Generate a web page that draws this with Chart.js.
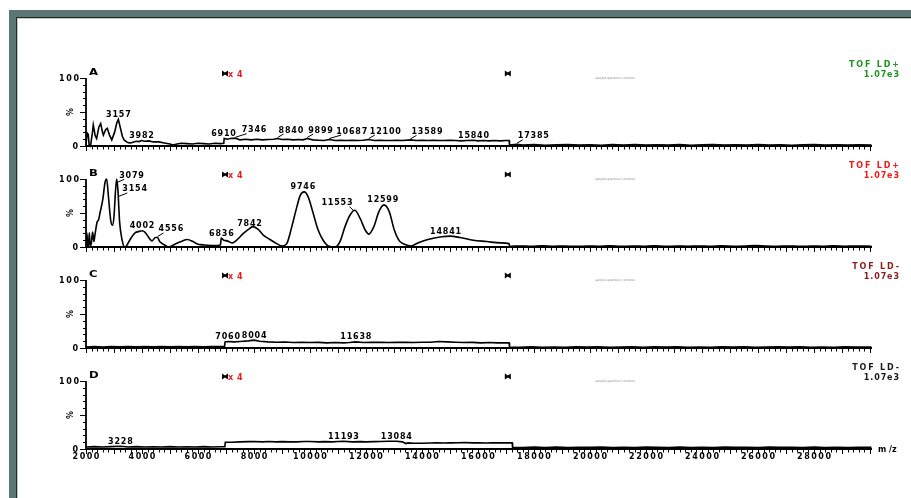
<!DOCTYPE html>
<html>
<head>
<meta charset="utf-8">
<script src="https://cdn.jsdelivr.net/npm/chart.js@4.4.1/dist/chart.umd.min.js"></script>
<style>
  html, body { margin: 0; padding: 0; background: #fff; }
  #wrap { position: relative; width: 911px; height: 498px; }
</style>
</head>
<body>
<div id="wrap"><canvas id="spectra" width="911" height="498"></canvas></div>
<script>
// m/z, intensity (%)
const spectrumA = [
  [2000,3],[2040,19],[2080,17],[2110,2],[2160,0],[2230,20],[2260,31],[2330,15],[2380,11],[2460,28],[2525,33],[2580,22],
  [2620,16],[2700,24],[2760,26],[2840,16],[2920,9],[3020,20],[3100,34],[3155,39],[3220,28],[3300,14],[3360,9],[3450,6],
  [3510,5],[3600,4.5],[3700,6],[3800,7],[3900,6.5],[3980,8],[4100,7],[4250,7.5],[4400,6],[4600,6],[4800,4.5],[5000,3],
  [5100,1.5],[5250,3],[5400,4],[5600,3.5],[5800,3],[6000,4],[6200,3.5],[6400,3],[6600,4],[6800,3.5],[6920,4],
  [6935,11],[7050,10],[7150,11],[7346,11.5],[7500,9],[7700,10],[7900,9],[8100,10],[8300,9],[8500,9.5],[8700,10],[8840,11],
  [9000,9.5],[9200,10],[9400,9],[9600,9.5],[9750,9],[9899,11],[10100,9],[10300,8.5],[10500,8],[10687,9.5],[10900,8],
  [11100,8.5],[11300,8],[11500,8.5],[11700,8],[11900,8.5],[12100,9.5],[12300,8],[12500,8.5],[12700,8],[12900,8],[13100,8.5],
  [13300,8],[13589,9],[13800,8],[14000,8.5],[14200,8],[14400,8.5],[14600,8],[14800,8],[15000,8.5],[15200,8],[15400,7.5],
  [15600,8],[15840,8.5],[16000,7.5],[16200,8],[16400,7.5],[16600,8],[16800,7.5],[17000,8],[17110,8],
  [17125,1.5],[17385,2.5],[17600,1.5],[18000,2],[18400,1.2],[18800,1.8],[19200,2.3],[19600,1.4],[20000,1.9],[20400,1.2],
  [20800,2],[21200,1.5],[21600,2.2],[22000,1.3],[22400,1.8],[22800,1.5],[23200,2.1],[23600,1.2],[24000,1.7],[24400,2],
  [24800,1.3],[25200,1.8],[25600,1.5],[26000,2.2],[26400,1.4],[26800,1.9],[27200,1.2],[27600,1.7],[28000,2],[28400,1.4],
  [28800,1.8],[29200,1.3],[29600,1.7],[30050,1.5]
];
const spectrumB = [
  [2000,3],[2030,21],[2060,2],[2090,1],[2118,21],[2150,2],[2190,5],[2235,22],[2280,8],[2320,18],[2400,37],[2450,40],
  [2500,50],[2600,70],[2680,95],[2738,100],[2800,75],[2880,40],[2945,32],[3000,45],[3050,80],[3095,100],[3140,84],
  [3170,60],[3200,37],[3290,10],[3380,0],[3450,2],[3560,10],[3760,21],[3900,23],[4002,24],[4100,22],[4180,17.6],
  [4360,9],[4480,14],[4556,14],[4630,8],[4810,3],[4950,0],[5170,4],[5400,8],[5620,11],[5820,8],[6000,4],[6250,3],
  [6550,2],[6800,3],[6830,13],[6920,10],[7040,9],[7100,8],[7220,6],[7380,10],[7620,20],[7850,27.5],[7960,30],[8150,26],
  [8330,17.6],[8570,11],[8810,5],[9010,1.5],[9170,5],[9350,30],[9530,59],[9650,76],[9790,81],[9930,74],[10110,50],
  [10290,25],[10470,10],[10650,1.5],[10890,0],[11070,8],[11250,30],[11430,47],[11600,54],[11790,42],[11970,25],
  [12100,19],[12280,30],[12460,52],[12640,62],[12830,52],[13010,25],[13190,9],[13370,4],[13610,1.5],[13850,6],
  [14210,11],[14700,15],[15000,16],[15360,14],[15830,10],[16310,8],[16790,6],[17110,5],
  [17125,1],[17500,1.5],[17900,1],[18300,1.6],[18700,1.1],[19100,1.5],[19500,0.9],[19900,1.4],[20300,1.1],[20700,1.6],
  [21100,1],[21500,1.4],[21900,1.2],[22300,1.7],[22700,1],[23100,1.4],[23500,1.1],[23900,1.5],[24300,1],[24700,1.6],
  [25100,1.2],[25500,1.5],[25900,2.2],[26300,1.4],[26700,1.1],[27100,1.5],[27500,1],[27900,1.4],[28300,1.1],[28700,1.6],
  [29100,1.2],[29500,1.4],[30050,1.2]
];
const spectrumC = [
  [2000,1.5],[2300,2],[2600,1.5],[2900,2],[3200,1.8],[3500,2.2],[3800,1.6],[4100,2],[4400,1.7],[4700,2.2],[5000,1.8],
  [5300,2],[5600,1.6],[5900,2.1],[6200,1.8],[6500,2.2],[6800,2],[6950,2.5],
  [6965,9],[7060,9.5],[7300,9],[7500,9.5],[7800,10.5],[8004,11.5],[8200,10],[8500,9],[8800,8.5],[9100,8.8],[9400,8],
  [9700,8.3],[10000,8],[10300,8.2],[10600,7.5],[10900,8],[11200,7.5],[11400,8],[11638,9],[11900,8],[12200,8.3],
  [12500,8.5],[12800,8],[13100,8.2],[13400,8.5],[13700,8],[14000,8.5],[14300,8.5],[14600,9.5],[14900,9],[15200,8.5],
  [15500,8],[15800,8.2],[16100,7.5],[16400,8],[16700,7.5],[17000,7.5],[17110,7.5],
  [17125,1.5],[17500,1.2],[17900,1.7],[18300,1.1],[18700,1.5],[19100,1.2],[19500,1.8],[19900,1.3],[20300,1.6],[20700,1.1],
  [21100,1.5],[21500,1.8],[21900,1.2],[22300,1.6],[22700,1.3],[23100,1.7],[23500,1.2],[23900,1.5],[24300,1.1],[24700,1.6],
  [25100,1.3],[25500,1.7],[25900,1.2],[26300,1.5],[26700,1.8],[27100,1.3],[27500,1.6],[27900,1.2],[28300,1.5],[28700,1.1],
  [29100,1.6],[29500,1.3],[30050,1.4]
];
const spectrumD = [
  [2000,3],[2300,3.5],[2600,3],[2900,3.5],[3228,4],[3500,3],[3800,3.5],[4100,3],[4400,3.3],[4700,3],[5000,3.5],[5300,3],
  [5600,3.3],[5900,3],[6200,3.5],[6500,3],[6800,3.3],[6960,3.5],
  [6975,10],[7200,10],[7500,10.5],[7800,10.8],[8000,11],[8300,10.5],[8500,11],[8800,10.5],[9000,10.8],[9300,10.5],
  [9500,10.5],[9800,11],[10000,11],[10300,10.5],[10500,10.8],[10800,10.5],[11000,11],[11193,11.5],[11500,10.5],
  [11800,10.8],[12000,10.5],[12300,10.8],[12500,11],[12800,11.5],[13084,11.5],[13300,10.5],[13420,8],[13500,9],
  [13700,8.5],[14000,8.5],[14300,8.8],[14500,9],[14800,8.8],[15000,9],[15300,9.3],[15500,9.5],[15800,9],[16000,9],
  [16300,8.8],[16500,9],[16800,9],[17000,9],[17220,9],
  [17235,2.5],[17600,2.2],[18000,2.8],[18400,2.3],[18800,2.7],[19200,2.2],[19600,2.6],[20000,2.4],[20400,2.8],[20800,2.2],
  [21200,2.6],[21600,2.3],[22000,2.8],[22400,2.4],[22800,2.2],[23200,2.7],[23600,2.3],[24000,2.6],[24400,2.2],[24800,2.8],
  [25200,2.4],[25600,2.6],[26000,2.2],[26400,2.9],[26800,2.4],[27200,2.6],[27600,2.2],[28000,2.7],[28400,2.3],[28800,2.6],
  [29200,2.2],[29600,2.5],[30050,2.4]
];

const peaksA = [3157, 3982, 6910, 7346, 8840, 9899, 10687, 12100, 13589, 15840, 17385];
const peaksB = [3079, 3154, 4002, 4556, 6836, 7842, 9746, 11553, 12599, 14841];
const peaksC = [7060, 8004, 11638];
const peaksD = [3228, 11193, 13084];

const panelLetters = ['A', 'B', 'C', 'D'];
const modeLabels = ['TOF LD+', 'TOF LD+', 'TOF LD-', 'TOF LD-'];
const scaleLabels = ['1.07e3', '1.07e3', '1.07e3', '1.07e3'];
const xTickLabels = [2000, 4000, 6000, 8000, 10000, 12000, 14000, 16000, 18000, 20000, 22000, 24000, 26000, 28000];
const markerMz = [7000, 17100];

// layout
const areaTop = 45, areaBottom = 449, pitch = 101, plotH = 68;
const modeColors = ['#1e961e', '#f01818', '#8b1c1c', '#1a1a1a'];
const labelLayout = {
  A: { 7346: 'l6', 8840: 'l', 9899: 'l', 10687: 'l7', 12100: 'l', 13589: 'l', 17385: 'l' },
  B: { 3079: 'l3', 3154: 'l4', 4556: 'l', 11553: 'r' }
};
const FONT = '"DejaVu Sans", sans-serif';

const panels = [
  { id: 'yA', data: spectrumA, peaks: peaksA },
  { id: 'yB', data: spectrumB, peaks: peaksB, smooth: true },
  { id: 'yC', data: spectrumC, peaks: peaksC },
  { id: 'yD', data: spectrumD, peaks: peaksD }
];

function interp(data, mz) {
  for (let i = 1; i < data.length; i++) {
    if (data[i][0] >= mz) {
      const [x0, y0] = data[i - 1], [x1, y1] = data[i];
      return y0 + (y1 - y0) * (mz - x0) / (x1 - x0);
    }
  }
  return data[data.length - 1][1];
}
function localMax(data, mz) {
  let best = interp(data, mz);
  data.forEach(([x, y]) => { if (Math.abs(x - mz) <= 80 && y > best) best = y; });
  return best;
}

function drawText(ctx, str, x, y, font, color, align, spacing) {
  ctx.save();
  ctx.font = font;
  ctx.fillStyle = color;
  ctx.letterSpacing = spacing + 'px';
  ctx.textAlign = 'left';
  ctx.textBaseline = 'alphabetic';
  const w = ctx.measureText(str).width - spacing;
  let left = x;
  if (align === 'center') left = x - w / 2;
  else if (align === 'right') left = x - w;
  ctx.fillText(str, left, y);
  ctx.restore();
  return { left: left, right: left + w };
}
function seg(ctx, x1, y1, x2, y2) {
  ctx.beginPath(); ctx.moveTo(x1, y1); ctx.lineTo(x2, y2); ctx.stroke();
}

const framePlugin = {
  id: 'frame',
  beforeDraw(chart) {
    const ctx = chart.ctx;
    ctx.save();
    ctx.fillStyle = '#ffffff';
    ctx.fillRect(0, 0, 911, 498);
    ctx.fillStyle = '#5c7773';
    ctx.fillRect(9, 10, 902, 488);
    ctx.fillStyle = '#1c2a28';
    ctx.fillRect(16, 17, 895, 481);
    ctx.fillStyle = '#c4c4c4';
    ctx.fillRect(17, 18, 894, 480);
    ctx.fillStyle = '#ffffff';
    ctx.fillRect(18, 19, 893, 479);
    ctx.restore();
  }
};

const axesPlugin = {
  id: 'msAxes',
  afterDatasetsDraw(chart) {
    const ctx = chart.ctx, xs = chart.scales.x;
    const xLeft = xs.getPixelForValue(xs.min), xRight = xs.getPixelForValue(xs.max);
    panels.forEach((p, i) => {
      const ys = chart.scales[p.id];
      const y0 = ys.getPixelForValue(0), y100 = ys.getPixelForValue(100);
      ctx.save();
      ctx.strokeStyle = '#000';
      ctx.lineWidth = 1.8;
      seg(ctx, xLeft, y0 + 0.9, xLeft, y100);
      seg(ctx, xLeft, y0, xRight, y0);
      ctx.lineWidth = 1;
      for (let v = 0; v <= 100; v += 10) {
        const y = Math.round(ys.getPixelForValue(v)) + 0.5;
        seg(ctx, xLeft - (v % 50 === 0 ? 6 : 3), y, xLeft, y);
      }
      for (let m = 2000; m <= 30000; m += 200) {
        const x = Math.round(xs.getPixelForValue(m)) + 0.5;
        seg(ctx, x, y0, x, y0 + (m % 1000 === 0 ? 5 : 3.5));
      }
      const tickFont = 'bold 8px ' + FONT;
      drawText(ctx, '100', xLeft - 7, y100 + 3, tickFont, '#000', 'right', 1.6);
      drawText(ctx, '0', xLeft - 8, y0 + 3, tickFont, '#000', 'right', 1.5);
      ctx.save();
      ctx.translate(xLeft - 13, ys.getPixelForValue(50));
      ctx.rotate(-Math.PI / 2);
      drawText(ctx, '%', 0, 0, tickFont, '#000', 'center', 0);
      ctx.restore();

      // panel letter
      ctx.save();
      ctx.translate(xLeft + 3, y100 - 3);
      ctx.scale(1.45, 1);
      drawText(ctx, panelLetters[i], 0, 0, 'bold 8px ' + FONT, '#000', 'left', 0);
      ctx.restore();

      // range markers
      markerMz.forEach((mz, k) => {
        const cx = xs.getPixelForValue(mz) - 1, cy = y100 - 4.5;
        ctx.fillStyle = '#000';
        ctx.beginPath();
        ctx.moveTo(cx - 3, cy - 3); ctx.lineTo(cx, cy - 1); ctx.lineTo(cx + 3, cy - 3);
        ctx.lineTo(cx + 3, cy + 3); ctx.lineTo(cx, cy + 1); ctx.lineTo(cx - 3, cy + 3); ctx.closePath();
        ctx.fill();
        if (k === 0) drawText(ctx, 'x 4', cx + 3, cy + 3, 'bold 8px ' + FONT, '#f01818', 'left', 0.5);
      });

      drawText(ctx, 'sample spectrum combine', xs.getPixelForValue(20180), y100 + 1, '3px ' + FONT, '#8a8a8a', 'left', 0);

      drawText(ctx, modeLabels[i], 899, y0 - 79, 'bold 8px ' + FONT, modeColors[i], 'right', 1.85);
      drawText(ctx, scaleLabels[i], 899, y0 - 69, 'bold 8px ' + FONT, modeColors[i], 'right', 0.9);

      // peak labels
      const layout = labelLayout[panelLetters[i]] || {};
      const pkFont = 'bold 8px ' + FONT;
      p.peaks.forEach(mz => {
        const spec = layout[mz] || 'c';
        const mode = spec[0], off = spec.length > 1 ? parseFloat(spec.slice(1)) : 1;
        const px = xs.getPixelForValue(mz);
        if (mode === 'c') {
          const py = ys.getPixelForValue(localMax(p.data, mz));
          drawText(ctx, String(mz), px, py - 2.5, pkFont, '#000', 'center', 0.8);
        } else if (mode === 'l') {
          const py = ys.getPixelForValue(interp(p.data, mz));
          const base = py - 6;
          const r = drawText(ctx, String(mz), px + off, base, pkFont, '#000', 'left', 0.8);
          seg(ctx, px, py - 1, r.left + 5, base + 1.5);
        } else {
          const py = ys.getPixelForValue(interp(p.data, mz));
          const base = py - 6.5;
          const r = drawText(ctx, String(mz), px - 1, base, pkFont, '#000', 'right', 0.8);
          seg(ctx, px, py - 1, r.right - 3, base + 1.5);
        }
      });

      if (i === panels.length - 1) {
        xTickLabels.forEach(v => {
          drawText(ctx, String(v), xs.getPixelForValue(v), y0 + 10, tickFont, '#000', 'center', 1.5);
        });
        drawText(ctx, 'm /z', xRight + 6, y0 + 3, tickFont, '#000', 'left', 0);
      }
      ctx.restore();
    });
  }
};

const yScales = {};
panels.forEach((p, i) => {
  const zeroPx = areaTop + pitch + pitch * i;
  const pxPerUnit = plotH / 100;
  yScales[p.id] = {
    type: 'linear',
    display: false,
    min: -(areaBottom - zeroPx) / pxPerUnit,
    max: (zeroPx - areaTop) / pxPerUnit
  };
});

new Chart(document.getElementById('spectra'), {
  type: 'line',
  data: {
    datasets: panels.map(p => ({
      data: p.data.map(([x, y]) => ({ x: x, y: y })),
      yAxisID: p.id,
      borderColor: '#000',
      borderWidth: 1.6,
      pointRadius: 0,
      tension: 0,
      cubicInterpolationMode: p.smooth ? 'monotone' : 'default',
      fill: false
    }))
  },
  options: {
    responsive: false,
    animation: false,
    devicePixelRatio: 1,
    layout: { padding: { left: 86, right: 39, top: areaTop, bottom: 498 - areaBottom } },
    plugins: { legend: { display: false }, tooltip: { enabled: false } },
    scales: Object.assign({
      x: { type: 'linear', min: 2000, max: 30070, display: false }
    }, yScales)
  },
  plugins: [framePlugin, axesPlugin]
});
</script>
</body>
</html>
